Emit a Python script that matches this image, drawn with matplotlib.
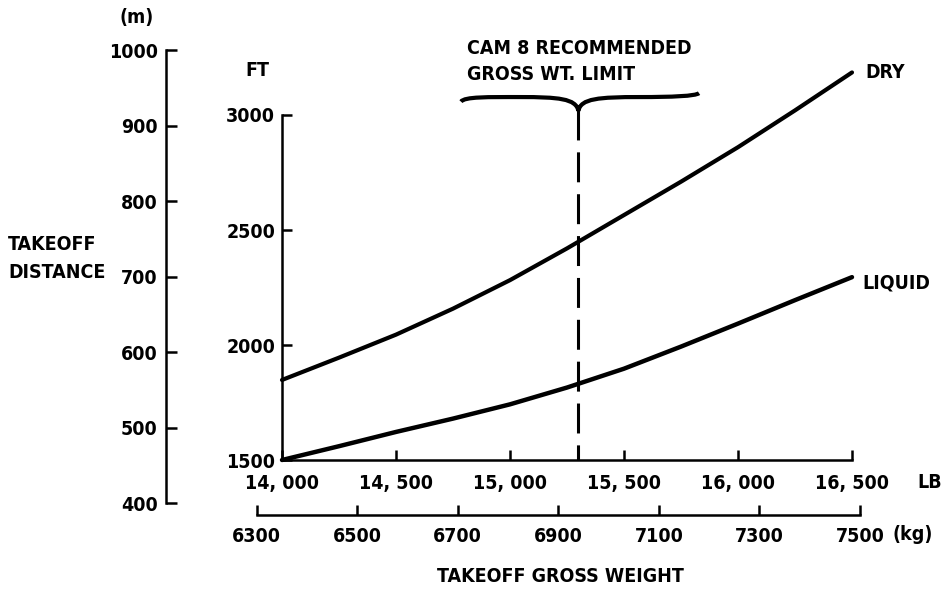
import numpy as np
import matplotlib
matplotlib.use('Agg')
import matplotlib.pyplot as plt
from matplotlib import font_manager as fm
from matplotlib.path import Path
from matplotlib.patches import PathPatch

# datos (peso en lb, distancia en ft)
peso_lb = [14000, 14250, 14500, 14750, 15000, 15250, 15500, 15750, 16000, 16250, 16500]
dry_ft = [1848, 1945, 2045, 2158, 2282, 2420, 2565, 2710, 2860, 3020, 3185]
liquid_ft = [1500, 1560, 1622, 1680, 1742, 1815, 1897, 1993, 2093, 2195, 2295]
limite_lb = 15300

lb_ticks = [14000, 14500, 15000, 15500, 16000, 16500]
lb_labels = ['14, 000', '14, 500', '15, 000', '15, 500', '16, 000', '16, 500']
ft_ticks = [1500, 2000, 2500, 3000]
m_ticks = [400, 500, 600, 700, 800, 900, 1000]
kg_ticks = [6300, 6500, 6700, 6900, 7100, 7300, 7500]

LB_PER_KG = 2.20462
FT_PER_M = 1 / 0.3048

# buscar una fuente estrecha
cond = any(f.name == 'DejaVu Sans' and 'condensed' in str(f.stretch) for f in fm.fontManager.ttflist)
if cond:
    fkw = dict(family='DejaVu Sans', fontstretch='condensed', fontweight='bold', fontsize=14)
else:
    fkw = dict(family='DejaVu Sans', fontweight='normal', fontsize=13)

W, H = 944, 590
fig = plt.figure(figsize=(W / 100, H / 100), dpi=100)
fig.patch.set_facecolor('white')

def fx(px):
    return px / W

def fy(py):
    return 1 - py / H

def estilo(labels):
    for lab in labels:
        lab.set_family(fkw['family'])
        lab.set_fontsize(fkw['fontsize'])
        lab.set_fontweight(fkw['fontweight'])
        if 'fontstretch' in fkw:
            lab.set_fontstretch(fkw['fontstretch'])

# ejes principales (pixeles de la referencia)
x0, x1 = 282, 852
y0, y1 = 460, 115
ax = fig.add_axes([fx(x0), fy(y0), (x1 - x0) / W, (y0 - y1) / H])
ax.set_xlim(14000, 16500)
ax.set_ylim(1500, 3000)
for s in ['top', 'right']:
    ax.spines[s].set_visible(False)
for s in ['left', 'bottom']:
    ax.spines[s].set_linewidth(1.8)
ax.set_xticks(lb_ticks)
ax.set_xticklabels(lb_labels)
ax.set_yticks(ft_ticks)
ax.set_yticklabels([str(t) for t in ft_ticks])
ax.tick_params(axis='both', direction='in', length=7, width=1.8)
ax.tick_params(axis='x', pad=10)
ax.tick_params(axis='y', pad=5)
estilo(ax.get_xticklabels() + ax.get_yticklabels())

ax.plot(peso_lb, dry_ft, color='black', lw=3, clip_on=False, solid_capstyle='round')
ax.plot(peso_lb, liquid_ft, color='black', lw=3.2, clip_on=False, solid_capstyle='round')
ax.plot([limite_lb, limite_lb], [3022, 1500], color='black', lw=2.2,
        dashes=(9.8, 3.9), clip_on=False)

# llave sobre la linea limite
bl, br = 14785, 15829
yb = 3078
verts = [(bl, 3058), (bl + 15, 3080), (bl + 120, yb), (bl + 260, yb),
         (limite_lb - 90, yb), (limite_lb - 10, 3072), (limite_lb, 3018),
         (limite_lb + 10, 3072), (limite_lb + 90, yb), (br - 260, yb),
         (br - 120, yb), (br - 15, 3082), (br, 3095)]
codes = [Path.MOVETO] + [Path.CURVE4] * 12
ax.add_patch(PathPatch(Path(verts, codes), fill=False, lw=3, color='black', clip_on=False))

# eje en metros
m_bot = y0 + (1500 - 400 * FT_PER_M) * (y0 - y1) / 1500
m_top = y0 - (1000 * FT_PER_M - 1500) * (y0 - y1) / 1500
axm = fig.add_axes([fx(166), fy(m_bot), 0.02, (m_bot - m_top) / H])
axm.set_ylim(400, 1000)
axm.patch.set_visible(False)
for s in ['top', 'right', 'bottom']:
    axm.spines[s].set_visible(False)
axm.spines['left'].set_linewidth(1.8)
axm.set_xticks([])
axm.set_yticks(m_ticks)
axm.tick_params(axis='y', direction='in', length=8, width=1.8, pad=6)
estilo(axm.get_yticklabels())

# eje en kg
px_lb = (x1 - x0) / 2500
k0 = x0 + (6300 * LB_PER_KG - 14000) * px_lb
k1 = x0 + (7500 * LB_PER_KG - 14000) * px_lb
axk = fig.add_axes([fx(k0), fy(515), (k1 - k0) / W, 0.02])
axk.set_xlim(6300, 7500)
axk.patch.set_visible(False)
for s in ['top', 'right', 'left']:
    axk.spines[s].set_visible(False)
axk.spines['bottom'].set_linewidth(1.8)
axk.set_yticks([])
axk.set_xticks(kg_ticks)
axk.tick_params(axis='x', direction='in', length=7, width=1.8, pad=9)
estilo(axk.get_xticklabels())

# textos
kw = dict(fkw, color='black')
fig.text(fx(137), fy(18), '(m)', ha='center', va='center', **kw)
fig.text(fx(257), fy(70), 'FT', ha='center', va='center', **kw)
fig.text(fx(8), fy(245), 'TAKEOFF', ha='left', va='center', **kw)
fig.text(fx(8), fy(272), 'DISTANCE', ha='left', va='center', **kw)
fig.text(fx(917), fy(483), 'LB', ha='left', va='center', **kw)
fig.text(fx(892), fy(535), '(kg)', ha='left', va='center', **kw)
fig.text(fx(560), fy(577), 'TAKEOFF GROSS WEIGHT', ha='center', va='center', **kw)
fig.text(fx(865), fy(73), 'DRY', ha='left', va='center', **kw)
fig.text(fx(862), fy(283), 'LIQUID', ha='left', va='center', **kw)
fig.text(fx(467), fy(48), 'CAM 8 RECOMMENDED', ha='left', va='center', **kw)
fig.text(fx(467), fy(75), 'GROSS WT. LIMIT', ha='left', va='center', **kw)

fig.savefig('out.png', dpi=100, facecolor='white')
